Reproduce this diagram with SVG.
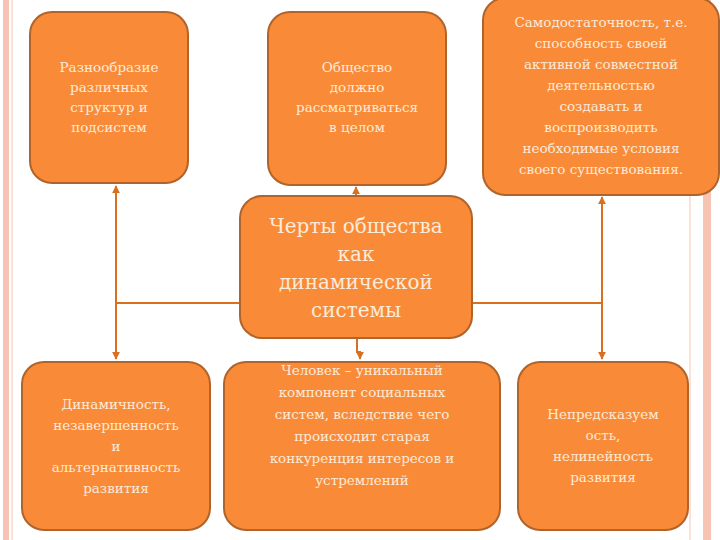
<svg xmlns="http://www.w3.org/2000/svg" width="720" height="540" viewBox="0 0 720 540">
<defs>
<style>
.n{fill:#F98A38;stroke:#B0632B;stroke-width:2}
.t{fill:#FCEBD9;font-family:"DejaVu Serif","Liberation Serif",serif;font-size:13.5px;text-anchor:middle}
.b{font-size:20px}
.c{stroke:#D8701F;stroke-width:2;fill:none}
</style>
<marker id="a" viewBox="0 0 10 10" refX="9" refY="5" markerWidth="4" markerHeight="4" orient="auto-start-reverse"><path d="M0,0L10,5L0,10z" fill="#D8701F"/></marker>
</defs>
<rect width="720" height="540" fill="#fff"/>
<rect x="3" y="0" width="6" height="540" fill="#F7C3B2"/>
<line x1="12" y1="0" x2="12" y2="540" stroke="#F7C3B2" stroke-width="1"/>
<rect x="703" y="0" width="8" height="540" fill="#F7C3B2"/>
<line x1="690" y1="0" x2="690" y2="540" stroke="#F7C3B2" stroke-width="1"/>
<g id="connectors">
<line class="c" x1="116" y1="186" x2="116" y2="359" marker-start="url(#a)" marker-end="url(#a)"/>
<line class="c" x1="116" y1="303" x2="240" y2="303"/>
<line class="c" x1="472" y1="303" x2="602" y2="303"/>
<line class="c" x1="602" y1="197" x2="602" y2="359" marker-start="url(#a)" marker-end="url(#a)"/>
<line class="c" x1="356" y1="196" x2="356" y2="187" marker-end="url(#a)"/>
<path class="c" d="M357,339 V352 H360 V359" marker-end="url(#a)"/>
</g>
<g id="n1"><rect class="n" x="30" y="12" width="158" height="171" rx="22"/>
<text class="t" x="109"><tspan x="109" y="72">Разнообразие</tspan><tspan x="109" y="92">различных</tspan><tspan x="109" y="112">структур и</tspan><tspan x="109" y="132">подсистем</tspan></text></g>
<g id="n2"><rect class="n" x="268" y="12" width="178" height="173" rx="22"/>
<text class="t"><tspan x="357" y="72">Общество</tspan><tspan x="357" y="92">должно</tspan><tspan x="357" y="112">рассматриваться</tspan><tspan x="357" y="132">в целом</tspan></text></g>
<g id="n3"><rect class="n" x="483" y="-2" width="236" height="197" rx="22"/>
<text class="t"><tspan x="601" y="27">Самодостаточность, т.е.</tspan><tspan x="601" y="48">способность своей</tspan><tspan x="601" y="69">активной совместной</tspan><tspan x="601" y="90">деятельностью</tspan><tspan x="601" y="111">создавать и</tspan><tspan x="601" y="132">воспроизводить</tspan><tspan x="601" y="153">необходимые условия</tspan><tspan x="601" y="174">своего существования.</tspan></text></g>
<g id="center"><rect class="n" x="240" y="196" width="232" height="142" rx="22"/>
<text class="t b"><tspan x="356" y="233">Черты общества</tspan><tspan x="356" y="261">как</tspan><tspan x="356" y="289">динамической</tspan><tspan x="356" y="317">системы</tspan></text></g>
<g id="n4"><rect class="n" x="22" y="362" width="188" height="168" rx="22"/>
<text class="t"><tspan x="116" y="409">Динамичность,</tspan><tspan x="116" y="430">незавершенность</tspan><tspan x="116" y="451">и</tspan><tspan x="116" y="472">альтернативность</tspan><tspan x="116" y="493">развития</tspan></text></g>
<g id="n5"><rect class="n" x="224" y="362" width="276" height="168" rx="22"/>
<text class="t"><tspan x="362" y="375">Человек – уникальный</tspan><tspan x="362" y="397">компонент социальных</tspan><tspan x="362" y="419">систем, вследствие чего</tspan><tspan x="362" y="441">происходит старая</tspan><tspan x="362" y="463">конкуренция  интересов и</tspan><tspan x="362" y="485">устремлений</tspan></text></g>
<g id="n6"><rect class="n" x="518" y="362" width="170" height="168" rx="22"/>
<text class="t"><tspan x="603" y="419">Непредсказуем</tspan><tspan x="603" y="440">ость,</tspan><tspan x="603" y="461">нелинейность</tspan><tspan x="603" y="482">развития</tspan></text></g>
</svg>
